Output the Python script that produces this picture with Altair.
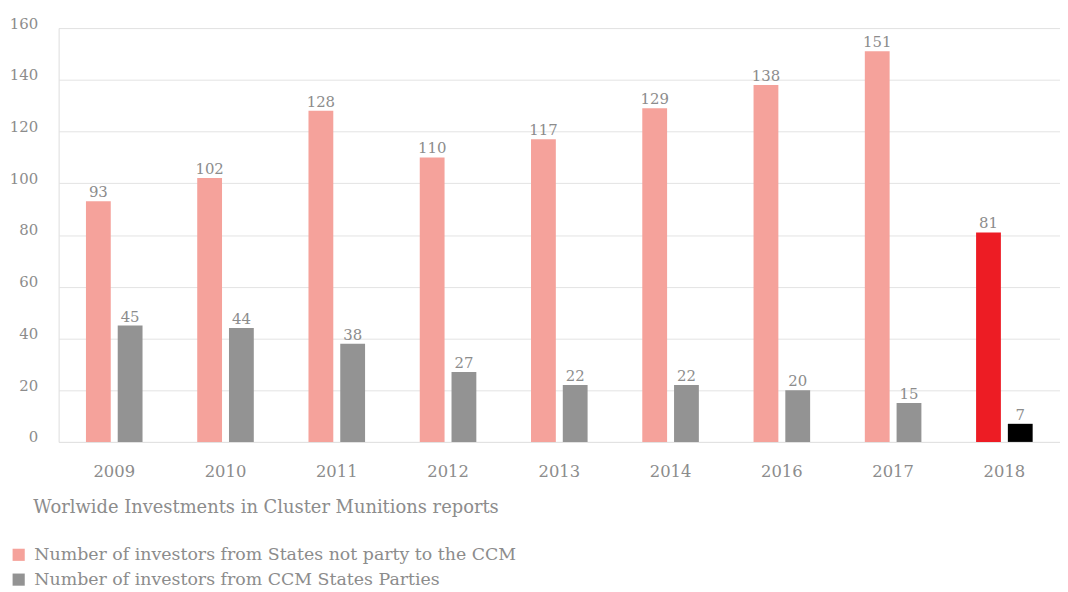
import altair as alt
import pandas as pd

years = ["2009", "2010", "2011", "2012", "2013", "2014", "2016", "2017", "2018"]
not_party = [93, 102, 128, 110, 117, 129, 138, 151, 81]
party = [45, 44, 38, 27, 22, 22, 20, 15, 7]

S1 = "Number of investors from States not party to the CCM"
S2 = "Number of investors from CCM States Parties"
S1H = "not party (2018)"
S2H = "party (2018)"

rows = []
for y, a, b in zip(years, not_party, party):
    rows.append({"year": y, "series": "a", "value": a, "key": S1H if y == "2018" else S1})
    rows.append({"year": y, "series": "b", "value": b, "key": S2H if y == "2018" else S2})
df = pd.DataFrame(rows)

FONT = "DejaVu Serif"
GREY = "#8c8c8c"

x = alt.X("year:N", sort=years,
          scale=alt.Scale(paddingInner=0.4915, paddingOuter=0.2457),
          axis=alt.Axis(title="Worlwide Investments in Cluster Munitions reports",
                        titleAnchor="start", titleAlign="left", titleX=-26, titleY=71,
                        titleBaseline="alphabetic", titleFont=FONT, titleFontSize=18,
                        titleFontWeight="normal", titleColor=GREY,
                        labelAngle=0, labelFont=FONT, labelFontSize=16.5, labelColor=GREY,
                        labelPadding=22, ticks=False, domain=False))
xo = alt.XOffset("series:N", scale=alt.Scale(paddingInner=0.219, paddingOuter=0))
y = alt.Y("value:Q", scale=alt.Scale(domain=[0, 160], nice=False),
          axis=alt.Axis(title=None, values=list(range(0, 161, 20)), labelFont=FONT,
                        labelFontSize=15, labelColor=GREY, labelPadding=21,
                        labelBaseline="alphabetic", ticks=False, domain=False,
                        gridColor="#e3e3e3", gridWidth=1))

bars = alt.Chart(df).mark_bar().encode(
    x=x, xOffset=xo, y=y,
    color=alt.Color("key:N",
                    scale=alt.Scale(domain=[S1, S2, S1H, S2H],
                                    range=["#f5a29b", "#939393", "#ed1c24", "#000000"]),
                    legend=alt.Legend(values=[S1, S2], title=None, orient="none",
                                      legendX=-49, legendY=522, symbolType="square",
                                      symbolSize=150, symbolStrokeWidth=0,
                                      labelFont=FONT, labelFontSize=17.5, labelColor=GREY,
                                      labelOffset=7, rowPadding=6, labelLimit=800)),
)

labels = alt.Chart(df).mark_text(baseline="alphabetic", dy=-4, font=FONT,
                                 fontSize=15, color=GREY).encode(
    x=x, xOffset=xo, y=y, text="value:Q")

chart = (bars + labels).properties(
    width=1009, height=417,
    autosize=alt.AutoSizeParams(type="none"),
    padding={"left": 51, "top": 18, "right": 0, "bottom": 148},
).configure_view(stroke=None).configure(background="white")

chart.save("out.html", embed_options={"renderer": "svg", "actions": False})
